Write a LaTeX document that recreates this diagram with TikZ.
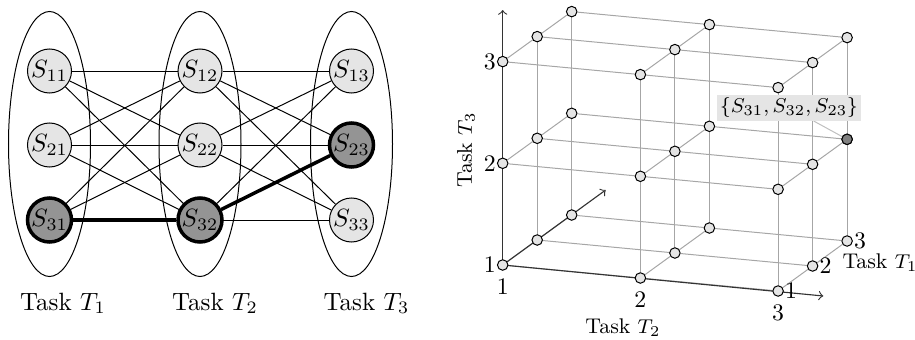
\documentclass[tikz,border=0pt]{standalone}
\usetikzlibrary{shapes.geometric,backgrounds}
\begin{document}
\begin{tikzpicture}[x=0.4pt,y=-0.4pt,
  st/.style={circle,draw,fill=black!10,minimum size=17.6pt,inner sep=0pt,line width=0.4pt},
  sel/.style={st,fill=black!42,line width=1.4pt},
  grp/.style={ellipse,draw,minimum width=32.8pt,minimum height=106pt,inner sep=0pt,line width=0.4pt},
  thin edge/.style={line width=0.4pt},
  best/.style={line width=1.4pt},
  gn/.style={circle,draw,fill=black!10,minimum size=4.2pt,inner sep=0pt,line width=0.4pt},
  gl/.style={draw=black!35,line width=0.4pt},
  ax/.style={draw=black!80,line width=0.45pt,->},
  small lab/.style={font=\fontsize{8.5}{10}\selectfont},
  tick lab/.style={font=\fontsize{9.5}{11}\selectfont},
]
\useasboundingbox (0,0) rectangle (915,340);

% ---------- left: task graph ----------
\foreach \c/\x in {1/49.5,2/200,3/351.5}{
  \foreach \r/\y in {1/71,2/145,3/220}{
    \node[st] (s\r\c) at (\x,\y) {$S_{\r\c}$};
  }
  \node[grp] (e\c) at (\x,144) {};
}
\node[sel] (h31) at (s31) {$S_{31}$};
\node[sel] (h32) at (s32) {$S_{32}$};
\node[sel] (h23) at (s23) {$S_{23}$};

\begin{scope}[on background layer]
  \foreach \i in {1,2,3}{
    \foreach \j in {1,2,3}{
      \draw[thin edge] (s\i1) -- (s\j2);
      \draw[thin edge] (s\i2) -- (s\j3);
    }
  }
\end{scope}
\draw[best] (h31) -- (h32);
\draw[best] (h32) -- (h23);

\node[anchor=base] (tt1) at (63,310) {Task $T_1$};
\node[anchor=base] (tt2) at (215,310) {Task $T_2$};
\node[anchor=base] (tt3) at (366.5,310) {Task $T_3$};

% ---------- right: 3D grid ----------
\foreach \a in {1,2,3}{
  \foreach \b in {1,2,3}{
    \foreach \c in {1,2,3}{
      \node[gn] (g\a\b\c) at ({502.7+34.5*(\a-1)+137.7*(\b-1)},{265-25*(\a-1)+13*(\b-1)-101.7*(\c-1)}) {};
    }
  }
}
\node[gn,fill=black!50] (hl) at (g332) {};

\coordinate (zend) at (502.7,10);
\coordinate (xend) at (605.7,190);
\coordinate (yend) at (823.3,296);

\node[small lab,fill=black!10,inner sep=1.2pt] (lab) at (789,107.5) {$\{S_{31},S_{32},S_{23}\}$};

\begin{scope}[on background layer]
  \foreach \a in {1,2,3}{
    \foreach \b in {1,2,3}{
      \draw[gl] (g\a\b1) -- (g\a\b2) (g\a\b2) -- (g\a\b3);
      \draw[gl] (g\a1\b) -- (g\a2\b) (g\a2\b) -- (g\a3\b);
      \draw[gl] (g1\a\b) -- (g2\a\b) (g2\a\b) -- (g3\a\b);
    }
  }
  \draw[ax] (g111.center) -- (zend);
  \draw[ax] (g111.center) -- (xend);
  \draw[ax] (g111.center) -- (yend);
  \draw[draw=black!25,line width=0.4pt] (lab) -- (hl);
\end{scope}

% tick labels
\node[tick lab,anchor=east,inner sep=0.3pt] (z1) at (g111.west) {1};
\node[tick lab,anchor=east,inner sep=0.3pt] (z2) at (g112.west) {2};
\node[tick lab,anchor=east,inner sep=0.3pt] (z3) at (g113.west) {3};
\node[tick lab,below=3pt,inner sep=0pt] (y1) at (g111.south) {1};
\node[tick lab,below=3pt,inner sep=0pt] (y2) at (g121.south) {2};
\node[tick lab,below=3pt,inner sep=0pt] (y3) at (g131.south) {3};
\node[tick lab,anchor=west,inner sep=0.3pt] (x1) at (g131.east) {1};
\node[tick lab,anchor=west,inner sep=0.3pt] (x2) at (g231.east) {2};
\node[tick lab,anchor=west,inner sep=0.3pt] (x3) at (g331.east) {3};

\node[small lab] (ly) at (623,328) {Task $T_2$};
\node[small lab,anchor=west,inner sep=0pt] (lx) at (842,263) {Task $T_1$};
\node[small lab,rotate=90] (lz) at (466,150) {Task $T_3$};
\end{tikzpicture}
\end{document}
